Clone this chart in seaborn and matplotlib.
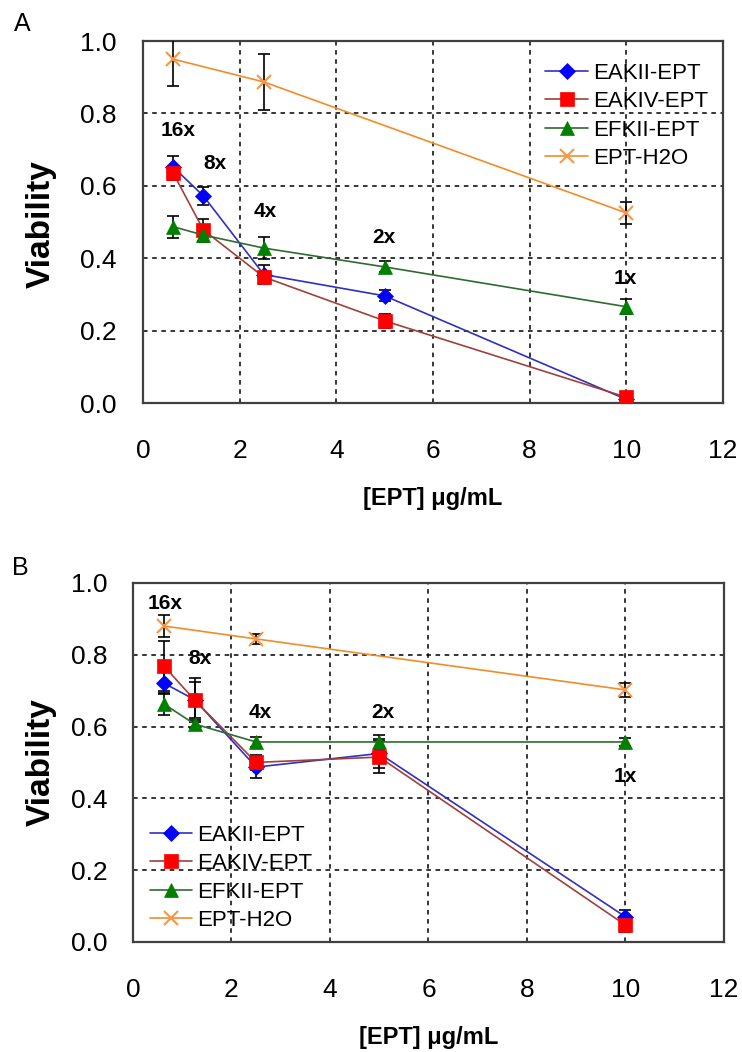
import numpy as np
import pandas as pd
import matplotlib
matplotlib.use("Agg")
import matplotlib.pyplot as plt
import seaborn as sns

# -----------------------------
# DATA
# -----------------------------

conc = [0.625, 1.25, 2.5, 5, 10]
conc_h2o = [0.625, 2.5, 10]

series_names = ["EAKII-EPT", "EAKIV-EPT", "EFKII-EPT", "EPT-H2O"]
fold_labels = ["16x", "8x", "4x", "2x", "1x"]

# panel A
a_eakii = [0.652, 0.572, 0.355, 0.296, 0.010]
a_eakii_err = [0.030, 0.025, 0.025, 0.015, 0.010]
a_eakiv = [0.635, 0.478, 0.348, 0.227, 0.016]
a_eakiv_err = [0.020, 0.030, 0.015, 0.020, 0.010]
a_efkii = [0.487, 0.464, 0.428, 0.376, 0.266]
a_efkii_err = [0.030, 0.020, 0.030, 0.015, 0.020]
a_h2o = [0.950, 0.887, 0.525]
a_h2o_err = [0.075, 0.078, 0.030]
a_label_x = [0.72, 1.49, 2.53, 4.99, 9.98]
a_label_y = [0.754, 0.663, 0.530, 0.458, 0.345]

# panel B
b_eakii = [0.721, 0.675, 0.487, 0.525, 0.070]
b_eakii_err = [0.030, 0.050, 0.030, 0.040, 0.020]
b_eakiv = [0.769, 0.674, 0.500, 0.515, 0.047]
b_eakiv_err = [0.070, 0.060, 0.020, 0.045, 0.020]
b_efkii = [0.663, 0.607, 0.557, 0.557, 0.557]
b_efkii_err = [0.030, 0.010, 0.015, 0.020, 0.010]
b_h2o = [0.880, 0.844, 0.702]
b_h2o_err = [0.030, 0.015, 0.020]
b_label_x = [0.65, 1.36, 2.58, 5.07, 10.0]
b_label_y = [0.944, 0.790, 0.638, 0.640, 0.460]

# -----------------------------
# STYLE
# -----------------------------

sns.set_style("white")
plt.rcParams['font.family'] = ['Liberation Sans', 'DejaVu Sans']
plt.rcParams['text.color'] = 'black'
plt.rcParams['axes.labelcolor'] = 'black'
plt.rcParams['xtick.color'] = 'black'
plt.rcParams['ytick.color'] = 'black'

markers = ['D', 's', '^', 'x']
marker_sizes = [8, 10, 10, 10]
face_colors = ['#0000FF', '#FF0000', '#008000', '#F79646']
line_colors = ['#3030C0', '#A0403A', '#2E6B2E', '#F28C28']

fig = plt.figure(figsize=(7.42, 10.52), dpi=100)

ax_a = fig.add_axes([0.1927, 0.6169, 0.7817, 0.3441])
ax_b = fig.add_axes([0.1792, 0.1046, 0.7965, 0.3413])


def draw_panel(ax, ys, errs, lab_x, lab_y, ypad, legend_loc, legend_anchor):
    xs_list = [conc, conc, conc, conc_h2o]

    # error bars first
    for xs, y, e in zip(xs_list, ys, errs):
        ax.errorbar(xs, y, yerr=e, fmt='none', ecolor='black',
                    elinewidth=1.2, capsize=4, capthick=1.2, zorder=3)

    for i, (xs, y) in enumerate(zip(xs_list, ys)):
        sns.lineplot(
            x=xs, y=y, ax=ax,
            color=line_colors[i],
            marker=markers[i],
            markersize=marker_sizes[i],
            markerfacecolor=face_colors[i],
            markeredgecolor=face_colors[i],
            markeredgewidth=1.5 if markers[i] == 'x' else 0.5,
            linewidth=1.2,
            label=series_names[i],
            zorder=4 + i,
        )

    for t, lx, ly in zip(fold_labels, lab_x, lab_y):
        ax.text(lx, ly, t, ha='center', va='center',
                fontsize=15, fontweight='bold', zorder=10)

    ax.set_xlim(0, 12)
    ax.set_ylim(0, 1.0)
    ax.set_xticks([0, 2, 4, 6, 8, 10, 12])
    ax.set_yticks([0.0, 0.2, 0.4, 0.6, 0.8, 1.0])
    ax.set_yticklabels(["0.0", "0.2", "0.4", "0.6", "0.8", "1.0"])

    ax.grid(True, color='black', linestyle=(0, (3, 3)), linewidth=1.1)
    ax.set_axisbelow(True)

    for s in ax.spines.values():
        s.set_color('#404040')
        s.set_linewidth(1.6)

    ax.tick_params(axis='x', direction='in', length=5, width=1.2,
                   labelsize=19, pad=26)
    ax.tick_params(axis='y', direction='in', length=5, width=1.2,
                   labelsize=19, pad=ypad)

    ax.set_xlabel("[EPT] \u03bcg/mL", fontsize=17, fontweight='bold',
                  labelpad=17)
    ax.set_ylabel("")

    ax.legend(loc=legend_loc, bbox_to_anchor=legend_anchor, frameon=False,
              fontsize=16, handlelength=1.9, handletextpad=0.25,
              labelspacing=0.34, borderaxespad=0.0, borderpad=0.4)


draw_panel(ax_a,
           [a_eakii, a_eakiv, a_efkii, a_h2o],
           [a_eakii_err, a_eakiv_err, a_efkii_err, a_h2o_err],
           a_label_x, a_label_y, 19, 'upper right', (0.99, 0.965))

draw_panel(ax_b,
           [b_eakii, b_eakiv, b_efkii, b_h2o],
           [b_eakii_err, b_eakiv_err, b_efkii_err, b_h2o_err],
           b_label_x, b_label_y, 18, 'lower left', (0.013, 0.005))

# y labels and panel letters
fig.text(41 / 742, 1 - 224 / 1052, "Viability", rotation=90, fontsize=24,
         fontweight='bold', ha='center', va='center')
fig.text(41 / 742, 1 - 762 / 1052, "Viability", rotation=90, fontsize=24,
         fontweight='bold', ha='center', va='center')

fig.text(22 / 742, 1 - 24 / 1052, "A", fontsize=18, ha='center', va='center')
fig.text(20 / 742, 1 - 568 / 1052, "B", fontsize=18, ha='center', va='center')

fig.savefig("out.png", dpi=100)
